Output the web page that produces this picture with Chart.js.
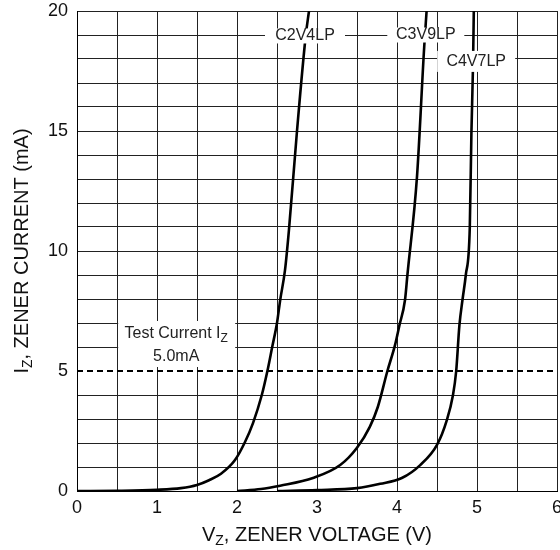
<!DOCTYPE html>
<html lang="en">
  <head>
    <meta charset="UTF-8" />
    <title>Zener current vs voltage</title>
    <style>
      html, body { margin: 0; padding: 0; background: #fff; }
      .plot { width: 560px; height: 550px; }
    </style>
  </head>
  <body>
    <div class="plot">
      <canvas id="zener"></canvas>
    </div>

    <script src="https://cdn.jsdelivr.net/npm/chart.js@4.4.1/dist/chart.umd.min.js"></script>
    <script>
      // curve values (V, mA)
      const c2v4Volts = [0, 0.5, 1.0, 1.3, 1.5, 1.65, 1.8, 1.975, 2.1, 2.2, 2.31, 2.38, 2.44, 2.5, 2.54, 2.6, 2.65, 2.75, 2.86, 2.9];
      const c2v4Amps = [0, 0.01, 0.05, 0.12, 0.25, 0.45, 0.72, 1.29, 2.04, 2.83, 4.0, 5.0, 6.0, 7.0, 7.96, 9.2, 10.9, 15, 19, 20];

      const c3v9Volts = [2.0, 2.3, 2.54, 2.95, 3.29, 3.5, 3.66, 3.76, 3.88, 3.975, 4.03, 4.1, 4.13, 4.25, 4.34, 4.37];
      const c3v9Amps = [0, 0.08, 0.22, 0.54, 1.08, 1.8, 2.67, 3.5, 5.0, 6.08, 6.9, 7.96, 9.0, 13.1, 18.5, 20];

      const c4v7Volts = [2.5, 3.0, 3.5, 3.79, 4.06, 4.29, 4.5, 4.62, 4.7, 4.74, 4.78, 4.82, 4.86, 4.91, 4.93, 4.95, 4.96];
      const c4v7Amps = [0, 0.04, 0.12, 0.3, 0.54, 1.08, 1.92, 2.92, 4.0, 5.0, 6.9, 8.0, 9.0, 11, 14.9, 17.7, 20];

      // test current line
      const testVolts = [0, 6];
      const testAmps = [5, 5];

      const curveNames = ["C2V4LP", "C3V9LP", "C4V7LP"];
      const xTickLabels = [0, 1, 2, 3, 4, 5, 6];
      const yTickLabels = [0, 5, 10, 15, 20];

      const toPoints = (xs, ys) => xs.map((x, i) => ({ x: x, y: ys[i] }));

      const FONT = "'Liberation Sans', Arial, sans-serif";

      // text with a subscript part, drawn at (cx, cy) centred
      function subText(ctx, main, sub, tail, size, cx, cy) {
        const big = size + "px " + FONT;
        const small = Math.round(size * 0.72) + "px " + FONT;
        ctx.font = big;
        const w1 = ctx.measureText(main).width;
        const w3 = ctx.measureText(tail).width;
        ctx.font = small;
        const w2 = ctx.measureText(sub).width;
        let x = cx - (w1 + w2 + w3) / 2;
        ctx.textBaseline = "middle";
        ctx.textAlign = "left";
        ctx.font = big;
        ctx.fillText(main, x, cy);
        x += w1;
        ctx.font = small;
        ctx.fillText(sub, x, cy + size * 0.3);
        x += w2;
        ctx.font = big;
        ctx.fillText(tail, x, cy);
      }

      const annotations = {
        id: "annotations",
        afterDatasetsDraw(chart) {
          const ctx = chart.ctx;
          const xs = chart.scales.x;
          const ys = chart.scales.y;
          ctx.save();

          // curve name labels, white box over the grid
          const spots = [
            { v: 2.85, i: 18.96, w: 80, h: 15 },
            { v: 4.36, i: 19.0, w: 77, h: 15 },
            { v: 4.99, i: 17.9, w: 78, h: 21 },
          ];
          ctx.font = "16px " + FONT;
          ctx.textAlign = "center";
          ctx.textBaseline = "middle";
          spots.forEach((s, k) => {
            const px = xs.getPixelForValue(s.v);
            const py = ys.getPixelForValue(s.i);
            ctx.fillStyle = "#fff";
            ctx.fillRect(px - s.w / 2, py - s.h / 2, s.w, s.h);
            ctx.fillStyle = "#222";
            ctx.fillText(curveNames[k], px, py);
          });

          // test current note
          const tx = xs.getPixelForValue(1.24);
          const ty = ys.getPixelForValue(6.125);
          ctx.fillStyle = "#fff";
          ctx.fillRect(tx - 58, ty - 23, 117, 46);
          ctx.fillStyle = "#222";
          subText(ctx, "Test Current I", "Z", "", 16, tx, ty - 10);
          ctx.font = "16px " + FONT;
          ctx.textAlign = "center";
          ctx.fillText("5.0mA", tx, ty + 13);
          ctx.restore();
        },
        afterDraw(chart) {
          const ctx = chart.ctx;
          const area = chart.chartArea;
          ctx.save();
          ctx.fillStyle = "#111";
          // x axis title
          subText(ctx, "V", "Z", ", ZENER VOLTAGE (V)", 20, (area.left + area.right) / 2, 535);
          // y axis title
          ctx.translate(22, (area.top + area.bottom) / 2);
          ctx.rotate(-Math.PI / 2);
          subText(ctx, "I", "Z", ", ZENER CURRENT (mA)", 20, 0, 0);
          ctx.restore();
        },
      };

      const curveStyle = {
        showLine: true,
        borderColor: "#000",
        borderWidth: 2.6,
        pointRadius: 0,
        cubicInterpolationMode: "monotone",
        fill: false,
      };

      new Chart(document.getElementById("zener"), {
        type: "scatter",
        data: {
          datasets: [
            Object.assign({ label: curveNames[0], data: toPoints(c2v4Volts, c2v4Amps) }, curveStyle),
            Object.assign({ label: curveNames[1], data: toPoints(c3v9Volts, c3v9Amps) }, curveStyle),
            Object.assign({ label: curveNames[2], data: toPoints(c4v7Volts, c4v7Amps) }, curveStyle),
            {
              label: "Test Current",
              data: toPoints(testVolts, testAmps),
              showLine: true,
              borderColor: "#000",
              borderWidth: 2,
              borderDash: [6, 4],
              pointRadius: 0,
            },
          ],
        },
        options: {
          responsive: true,
          maintainAspectRatio: false,
          animation: false,
          layout: { padding: { top: 11, right: 3, left: 0, bottom: 0 } },
          plugins: {
            legend: { display: false },
            tooltip: { enabled: false },
          },
          scales: {
            x: {
              type: "linear",
              min: 0,
              max: 6,
              afterFit(scale) {
                scale.height = 59;
                scale.paddingRight = 0;
                scale.paddingLeft = 0;
              },
              ticks: {
                stepSize: 0.5,
                autoSkip: false,
                maxRotation: 0,
                padding: 6,
                color: "#111",
                font: { family: FONT, size: 18 },
                callback: (v) => (xTickLabels.includes(v) ? String(v) : ""),
              },
              grid: { color: "#222", lineWidth: 1, drawTicks: false },
              border: { color: "#000", width: 1 },
            },
            y: {
              type: "linear",
              min: 0,
              max: 20,
              afterFit(scale) {
                scale.width = 77;
                scale.paddingTop = 0;
                scale.paddingBottom = 0;
              },
              ticks: {
                stepSize: 1,
                autoSkip: false,
                padding: 9,
                color: "#111",
                font: { family: FONT, size: 18 },
                callback: (v) => (yTickLabels.includes(v) ? String(v) : ""),
              },
              grid: {
                color: (c) => (c.tick && c.tick.value === 5 ? "rgba(0,0,0,0)" : "#222"),
                lineWidth: 1,
                drawTicks: false,
              },
              border: { color: "#000", width: 1 },
            },
          },
        },
        plugins: [annotations],
      });
    </script>
  </body>
</html>
